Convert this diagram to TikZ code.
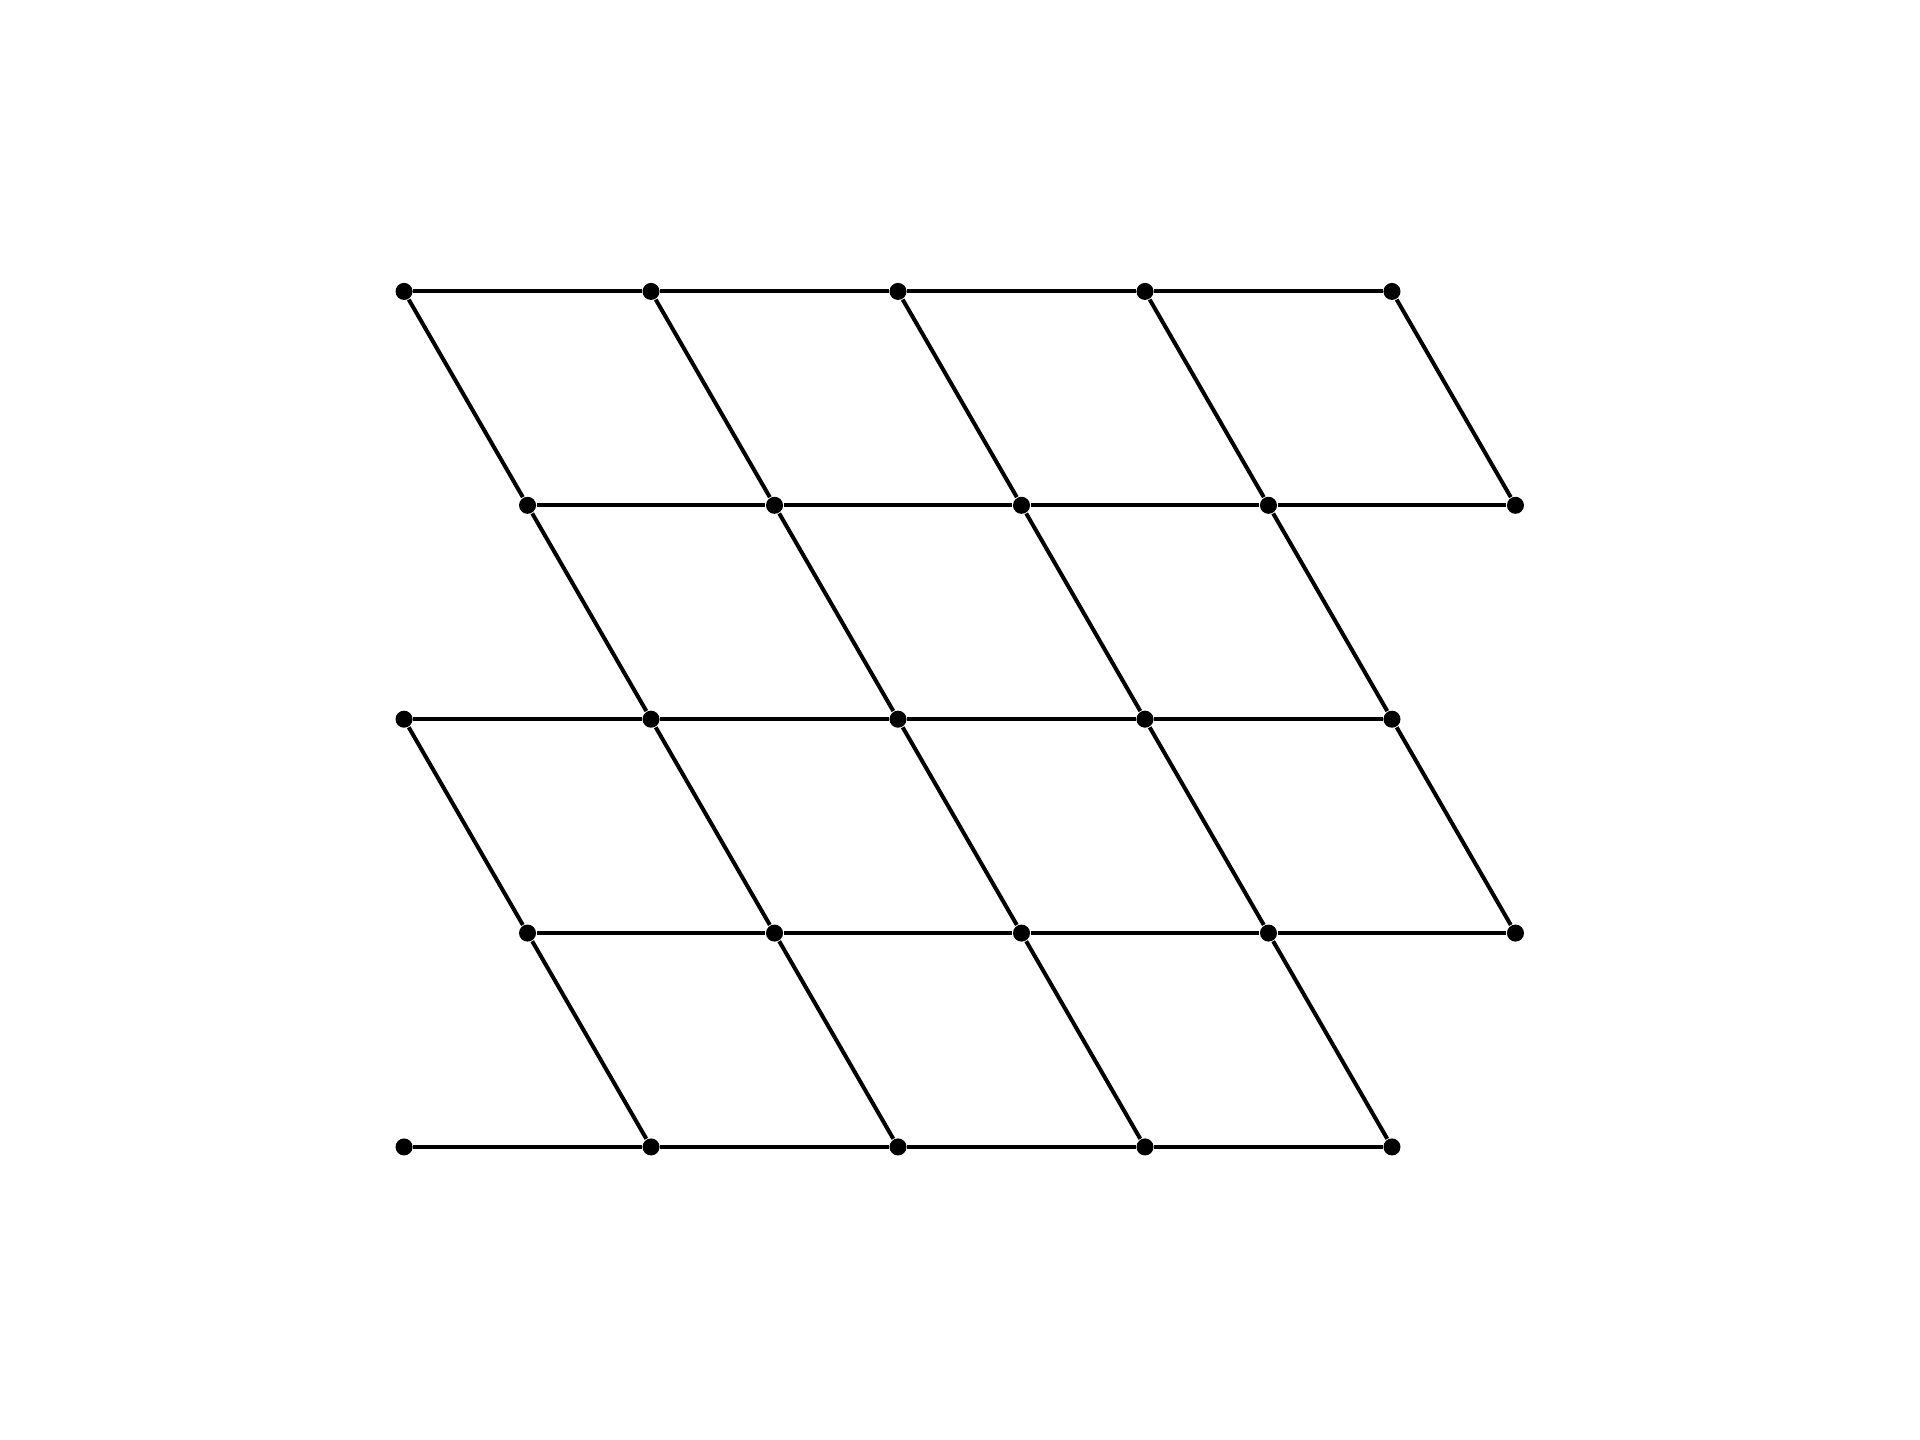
\documentclass[tikz,border=0pt]{standalone}
\usepackage{tikz}
\usetikzlibrary{calc}

\begin{document}
\begin{tikzpicture}[
    x=2cm, y=2cm,
    dot/.style={circle, fill=black, inner sep=0pt, minimum size=0.138cm},
    edge/.style={line width=0.92pt, black}
]

\useasboundingbox (-1.636,-1.186) rectangle (6.138,4.644);

% lattice points, row 0 at the bottom
\foreach \r in {0,...,4} {
    \pgfmathsetmacro{\off}{mod(\r,2)*0.5}
    \foreach \c in {0,...,4} {
        \node[dot] (n\r\c) at ({\c+\off}, {\r*0.866}) {};
    }
}

% horizontal edges
\foreach \r in {0,...,4} {
    \foreach \c [evaluate=\c as \d using int(\c+1)] in {0,...,3} {
        \draw[edge] (n\r\c) -- (n\r\d);
    }
}

% slanted edges, even rows down to odd rows
\foreach \r/\s in {4/3, 2/1} {
    \foreach \c in {0,...,4} {
        \draw[edge] (n\r\c) -- (n\s\c);
    }
}

% slanted edges, odd rows down to even rows
\foreach \r/\s in {3/2, 1/0} {
    \foreach \c [evaluate=\c as \d using int(\c+1)] in {0,...,3} {
        \draw[edge] (n\r\c) -- (n\s\d);
    }
}

\end{tikzpicture}
\end{document}
